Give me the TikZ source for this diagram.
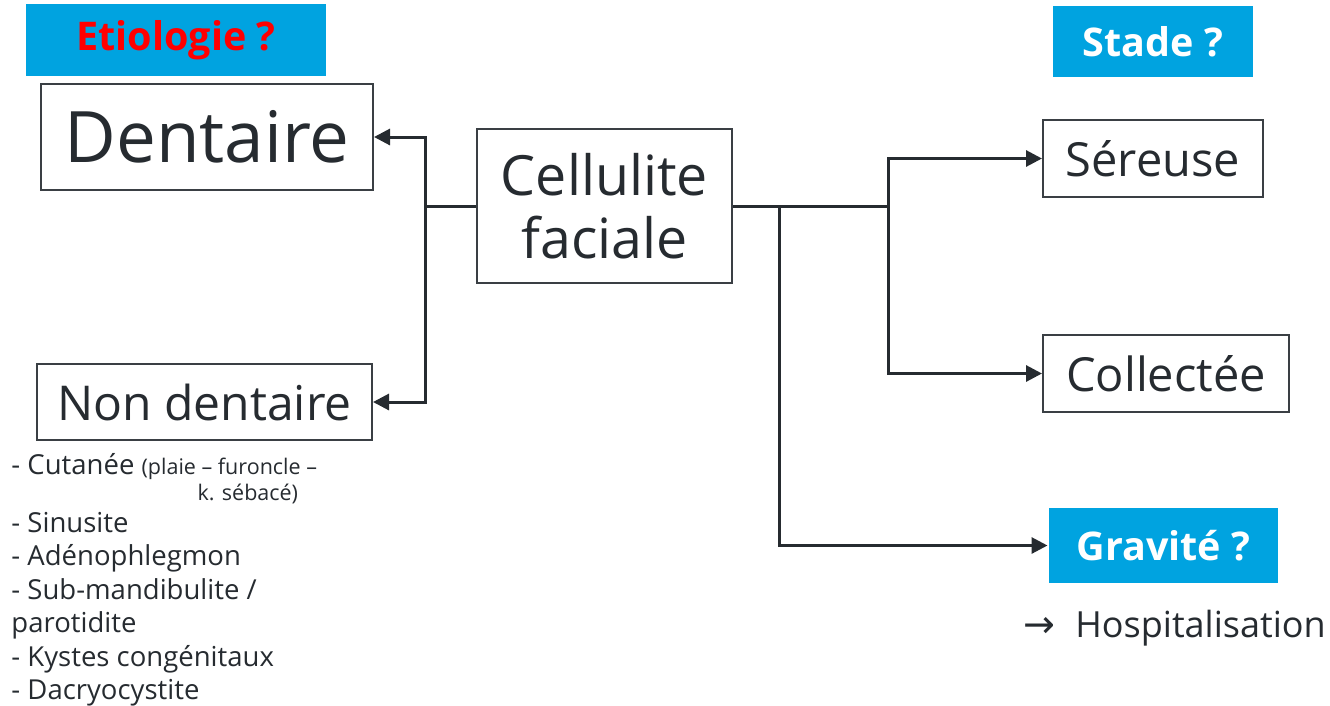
\documentclass[tikz,border=0pt]{standalone}
\usepackage{fontspec}
\setmainfont{Open Sans}
\newfontfamily\symfont{DejaVu Sans}
\usepackage{xcolor}
\usetikzlibrary{arrows.meta}

\definecolor{ink}{HTML}{262B30}
\definecolor{edge}{HTML}{3A3F44}
\definecolor{cyanbox}{HTML}{00A3E0}

\tikzset{
  box/.style={draw=edge,line width=2pt,fill=white,text=ink,inner sep=0pt,align=center},
  bluebox/.style={fill=cyanbox,inner sep=0pt,font=\bfseries\fontsize{39.5}{46}\selectfont},
  arr/.style={-{Triangle[length=16pt,width=16pt]}},
}

\begin{document}
\begin{tikzpicture}[x=1pt,y=-1pt,line width=3pt,draw=ink]
  \useasboundingbox (0,0) rectangle (1330,705);

  % questions
  \node[bluebox,text=red,minimum width=300pt,minimum height=72pt] (etio) at (176,40) {Etiologie ?};
  \node[bluebox,text=white,minimum width=200pt,minimum height=71pt] (stade) at (1153,41.5) {Stade ?};
  \node[bluebox,text=white,minimum width=229pt,minimum height=75pt] (grav) at (1163.5,545.5) {Gravité ?};

  \node[box,minimum width=255pt,minimum height=154pt,font=\fontsize{55.5}{63}\selectfont] (cell) at (604.5,206) {Cellulite\\faciale};
  \node[box,minimum width=332pt,minimum height=106pt,font=\fontsize{71}{80}\selectfont] (dent) at (207,137) {Dentaire};
  \node[box,minimum width=335pt,minimum height=76pt,font=\fontsize{48}{56}\selectfont] (nondent) at (204.5,402) {Non dentaire};
  \node[box,minimum width=220pt,minimum height=77pt,font=\fontsize{47}{56}\selectfont] (ser) at (1153,158.5) {Séreuse};
  \node[box,minimum width=246pt,minimum height=77pt,font=\fontsize{47}{56}\selectfont] (col) at (1166,373.5) {Collectée};

  \node[anchor=base west,inner sep=0pt,align=left,text=ink,font=\fontsize{27.5}{33.5}\selectfont] (causes) at (10,699.5)
    {- Cutanée {\fontsize{21.5}{25}\selectfont(plaie – furoncle –}\\[-7.5pt]
     \hspace*{186pt}{\fontsize{21.5}{25}\selectfont k. sébacé)}\\[-1.5pt]
     - Sinusite\\
     - Adénophlegmon\\
     - Sub-mandibulite /\\
     parotidite\\
     - Kystes congénitaux\\
     - Dacryocystite};
  \node[anchor=base west,inner sep=0pt,text=ink,font=\fontsize{36}{42}\selectfont] (hosp) at (1022,637)
    {{\symfont\fontsize{38}{44}\selectfont →}\hspace{20pt}Hospitalisation};

  % connectors
  \coordinate (lj) at (425,206);
  \coordinate (rj) at (888,206);
  \coordinate (gj) at (779,206);
  \draw (cell.west) -- (lj);
  \draw[arr] (lj) |- (dent.east);
  \draw[arr] (lj) |- (nondent.east);
  \draw (cell.east) -- (rj);
  \draw[arr] (rj) |- (ser.west);
  \draw[arr] (rj) |- (col.west);
  \draw[arr] (gj) |- (grav.west);
\end{tikzpicture}
\end{document}
